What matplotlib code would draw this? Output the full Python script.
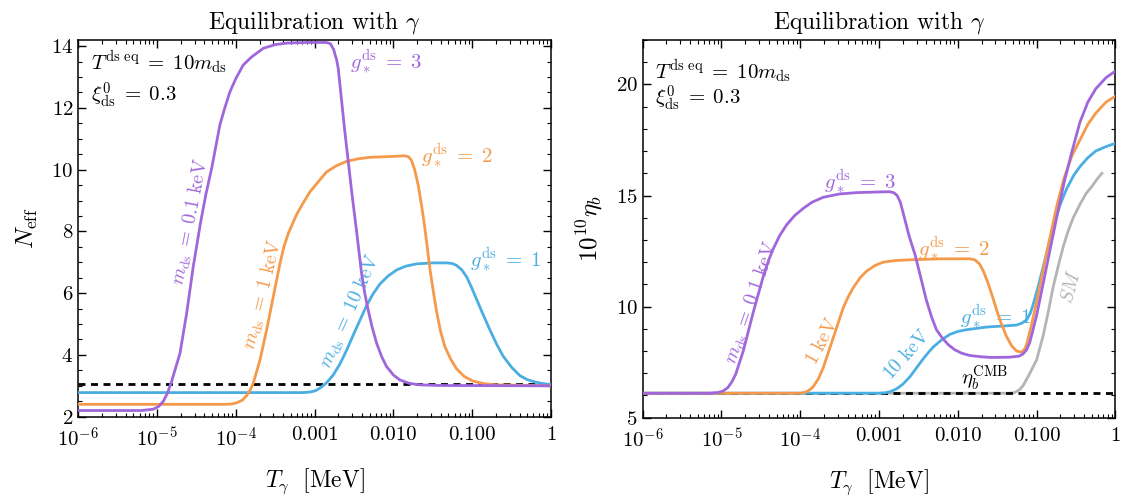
import numpy as np
import matplotlib
matplotlib.use("Agg")
import matplotlib.pyplot as plt
from matplotlib.ticker import FixedLocator, LogLocator, MultipleLocator, NullFormatter

plt.rcParams['font.family'] = 'serif'
plt.rcParams['font.serif'] = ['cmr10']
plt.rcParams['mathtext.fontset'] = 'cm'
plt.rcParams['axes.formatter.use_mathtext'] = True
plt.rcParams['axes.unicode_minus'] = False

# ---------------- data (x given as log10 of T_gamma / MeV) ----------------
# left panel: N_eff
lt_neff_p = [-6.0, -5.2, -5.05, -4.98, -4.92, -4.87, -4.82, -4.709, -4.624, -4.541, -4.45,
             -4.38, -4.307, -4.25, -4.202, -4.14, -4.075, -4.0, -3.906, -3.8, -3.652,
             -3.5, -3.355, -3.1, -2.85, -2.80, -2.76, -2.72, -2.70, -2.66, -2.615,
             -2.57, -2.53, -2.467, -2.404, -2.36, -2.32, -2.27, -2.213, -2.15, -2.086,
             -2.0, -1.918, -1.8, -1.664, -1.4, 0.0]
neff_p = [2.20, 2.20, 2.24, 2.33, 2.5, 2.75, 3.1, 4.05, 5.35, 6.85, 8.25,
          9.2, 10.04, 10.8, 11.45, 12.0, 12.52, 12.95, 13.39, 13.65, 13.93,
          14.05, 14.10, 14.12, 14.12, 14.08, 13.9, 13.55, 13.28, 12.3, 11.2,
          10.2, 9.3, 8.0, 6.64, 5.95, 5.45, 4.9, 4.38, 3.95, 3.62,
          3.35, 3.19, 3.08, 3.03, 3.01, 3.0]

lt_neff_o = [-6.0, -4.15, -4.05, -3.99, -3.92, -3.863, -3.82, -3.779, -3.694, -3.609, -3.525,
             -3.44, -3.39, -3.335, -3.28, -3.228, -3.15, -3.06, -2.95, -2.848, -2.72,
             -2.594, -2.45, -2.3, -2.0, -1.86, -1.81, -1.77, -1.73, -1.685, -1.64,
             -1.6, -1.537, -1.49, -1.452, -1.4, -1.347, -1.27, -1.198, -1.1, -0.987,
             -0.85, -0.69, 0.0]
neff_o = [2.40, 2.40, 2.41, 2.45, 2.53, 2.68, 2.85, 3.08, 3.83, 4.81, 5.88,
          6.96, 7.5, 7.93, 8.25, 8.55, 8.9, 9.28, 9.62, 9.93, 10.13,
          10.27, 10.35, 10.40, 10.43, 10.45, 10.42, 10.3, 10.0, 9.5, 8.8,
          8.1, 6.8, 6.0, 5.4, 4.75, 4.27, 3.85, 3.55, 3.3, 3.15,
          3.07, 3.03, 3.0]

lt_neff_b = [-6.0, -3.15, -3.05, -2.98, -2.93, -2.87, -2.82, -2.764, -2.68, -2.594, -2.5,
             -2.42, -2.34, -2.26, -2.17, -2.07, -1.96, -1.85, -1.705, -1.5, -1.325,
             -1.25, -1.198, -1.13, -1.071, -1.01, -0.944, -0.86, -0.775, -0.69, -0.607,
             -0.5, -0.395, -0.3, -0.2, -0.1, 0.0]
neff_b = [2.78, 2.78, 2.80, 2.85, 2.93, 3.05, 3.18, 3.35, 3.7, 4.15, 4.7,
          5.15, 5.6, 5.97, 6.3, 6.55, 6.75, 6.87, 6.95, 6.98, 6.98,
          6.96, 6.90, 6.75, 6.53, 6.2, 5.8, 5.3, 4.81, 4.35, 3.96,
          3.6, 3.33, 3.2, 3.12, 3.07, 3.04]

neff_sm = 3.045

# right panel: 10^10 eta_b
lt_eta_p = [-6.0, -5.15, -5.05, -4.98, -4.92, -4.87, -4.82, -4.723, -4.596, -4.47, -4.40,
            -4.343, -4.26, -4.173, -4.07, -3.962, -3.85, -3.708, -3.5, -3.284, -3.0,
            -2.862, -2.81, -2.77, -2.73, -2.70, -2.62, -2.54, -2.47, -2.40, -2.33,
            -2.27, -2.2, -2.12, -2.04, -1.95, -1.85, -1.7, -1.58, -1.35, -1.22,
            -1.17, -1.13, -1.09, -1.06, -1.0, -0.873, -0.746, -0.65, -0.55, -0.45,
            -0.35, -0.25, -0.12, 0.0]
eta_p = [6.1, 6.1, 6.13, 6.2, 6.35, 6.6, 6.95, 8.0, 9.75, 11.35, 12.1,
         12.6, 13.2, 13.68, 14.1, 14.42, 14.7, 14.92, 15.07, 15.13, 15.16,
         15.17, 15.12, 15.0, 14.7, 14.3, 13.2, 12.3, 11.3, 10.3, 9.5,
         8.95, 8.6, 8.28, 8.06, 7.9, 7.8, 7.74, 7.71, 7.72, 7.77,
         7.88, 8.04, 8.35, 8.75, 9.6, 11.8, 14.0, 15.6, 17.0, 18.3,
         19.2, 19.8, 20.3, 20.6]

lt_eta_o = [-6.0, -4.0, -3.93, -3.87, -3.835, -3.77, -3.708, -3.581, -3.454, -3.39, -3.327,
            -3.24, -3.157, -3.05, -2.947, -2.8, -2.65, -2.227, -1.846, -1.78, -1.72,
            -1.67, -1.614, -1.56, -1.508, -1.45, -1.381, -1.32, -1.254, -1.19, -1.15,
            -1.127, -1.07, -1.0, -0.873, -0.746, -0.65, -0.55, -0.45, -0.35, -0.25,
            -0.12, 0.0]
eta_o = [6.1, 6.1, 6.15, 6.28, 6.4, 6.75, 7.25, 8.6, 9.95, 10.45, 10.85,
         11.3, 11.6, 11.85, 12.0, 12.07, 12.1, 12.15, 12.15, 12.1, 11.9,
         11.55, 11.03, 10.45, 9.85, 9.25, 8.65, 8.25, 8.0, 7.95, 8.1,
         8.3, 9.1, 10.2, 12.4, 14.5, 15.8, 16.8, 17.5, 18.2, 18.7,
         19.2, 19.47]

lt_eta_b = [-6.0, -3.0, -2.92, -2.85, -2.777, -2.7, -2.608, -2.523, -2.439, -2.37, -2.312,
            -2.2, -2.1, -2.0, -1.888, -1.635, -1.4, -1.254, -1.19, -1.127, -1.08,
            -1.043, -0.98, -0.916, -0.789, -0.7, -0.619, -0.53, -0.45, -0.35, -0.25,
            -0.12, 0.0]
eta_b = [6.1, 6.1, 6.12, 6.18, 6.3, 6.5, 6.84, 7.25, 7.65, 7.95, 8.18,
         8.52, 8.75, 8.88, 8.96, 9.08, 9.13, 9.17, 9.25, 9.4, 9.7,
         10.1, 10.9, 11.8, 13.6, 14.6, 15.3, 15.9, 16.3, 16.7, 17.0,
         17.2, 17.35]

lt_eta_sm = [-6.0, -1.35, -1.28, -1.22, -1.17, -1.1, -1.0, -0.916, -0.85, -0.789, -0.72,
             -0.662, -0.6, -0.535, -0.45, -0.37, -0.3, -0.23, -0.171]
eta_sm = [6.1, 6.1, 6.13, 6.25, 6.45, 6.9, 7.6, 8.7, 9.8, 10.9, 11.9,
          12.7, 13.4, 14.0, 14.6, 15.1, 15.4, 15.75, 16.0]

eta_cmb = 6.1

xticks = [1e-6, 1e-5, 1e-4, 1e-3, 1e-2, 1e-1, 1]
xticklabels = [r'$10^{-6}$', r'$10^{-5}$', r'$10^{-4}$', '0.001', '0.010', '0.100', '1']

c_p = '#a066dc'
c_o = '#f59a4a'
c_b = '#4aaee2'
c_g = '#b4b4b4'
lw = 2.0

fig = plt.figure(figsize=(11.21, 4.98), dpi=100)
ax1 = fig.add_axes([0.0698, 0.1633, 0.4217, 0.7564])
ax2 = fig.add_axes([0.5733, 0.1613, 0.4217, 0.7584])


def T(lt):
    return 10.0 ** np.array(lt)


def style(ax):
    ax.set_xscale('log')
    ax.set_xlim(1e-6, 1)
    ax.xaxis.set_major_locator(FixedLocator(xticks))
    ax.set_xticklabels(xticklabels)
    ax.xaxis.set_minor_locator(LogLocator(base=10, subs=np.arange(2, 10), numticks=20))
    ax.xaxis.set_minor_formatter(NullFormatter())
    ax.tick_params(which='both', direction='in', top=True, right=True, labelsize=15)
    ax.tick_params(which='major', length=6, width=1)
    ax.tick_params(which='minor', length=3, width=0.8)
    ax.tick_params(axis='x', which='major', pad=7)
    ax.set_xlabel(r'$T_\gamma\ \ [\mathrm{MeV}]$', fontsize=17, labelpad=12)
    ax.set_title(r'Equilibration with $\gamma$', fontsize=17, pad=8)
    for s in ax.spines.values():
        s.set_linewidth(1.1)


# ---------------- left panel ----------------
ax1.axhline(neff_sm, color='k', ls='--', lw=2, dashes=(2.5, 2), zorder=2)
ax1.plot(T(lt_neff_b), neff_b, color=c_b, lw=lw, zorder=3)
ax1.plot(T(lt_neff_o), neff_o, color=c_o, lw=lw, zorder=4)
ax1.plot(T(lt_neff_p), neff_p, color=c_p, lw=lw, zorder=5)
style(ax1)
ax1.set_ylim(2, 14.2)
ax1.yaxis.set_major_locator(MultipleLocator(2))
ax1.yaxis.set_minor_locator(MultipleLocator(0.5))
ax1.set_ylabel(r'$N_{\rm eff}$', fontsize=18, labelpad=8)

fs = 15
fr = 14
ax1.text(0.027, 0.939, r'$T^{\rm ds\ eq} \;=\; 10 m_{\rm ds}$', transform=ax1.transAxes, fontsize=fs, va='center')
ax1.text(0.027, 0.854, r'$\xi^0_{\rm ds} \;=\; 0.3$', transform=ax1.transAxes, fontsize=fs, va='center')
ax1.text(0.575, 0.942, r'$g_*^{\rm ds} \;=\; 3$', transform=ax1.transAxes, fontsize=fs, va='center', color=c_p)
ax1.text(0.726, 0.694, r'$g_*^{\rm ds} \;=\; 2$', transform=ax1.transAxes, fontsize=fs, va='center', color=c_o)
ax1.text(0.829, 0.416, r'$g_*^{\rm ds} \;=\; 1$', transform=ax1.transAxes, fontsize=fs, va='center', color=c_b)
ax1.text(0.237, 0.516, r'$m_{\rm ds} \;=\; 0.1\ \mathrm{keV}$', transform=ax1.transAxes, fontsize=fr,
         ha='center', va='center', rotation=79, color=c_p)
ax1.text(0.392, 0.323, r'$m_{\rm ds} \;=\; 1\ \mathrm{keV}$', transform=ax1.transAxes, fontsize=fr,
         ha='center', va='center', rotation=76, color=c_o)
ax1.text(0.576, 0.278, r'$m_{\rm ds} \;=\; 10\ \mathrm{keV}$', transform=ax1.transAxes, fontsize=fr,
         ha='center', va='center', rotation=66, color=c_b)

# ---------------- right panel ----------------
ax2.plot(T(lt_eta_sm), eta_sm, color=c_g, lw=lw, zorder=1)
ax2.axhline(eta_cmb, color='k', ls='--', lw=2, dashes=(2.5, 2), zorder=2)
ax2.plot(T(lt_eta_b), eta_b, color=c_b, lw=lw, zorder=3)
ax2.plot(T(lt_eta_o), eta_o, color=c_o, lw=lw, zorder=4)
ax2.plot(T(lt_eta_p), eta_p, color=c_p, lw=lw, zorder=5)
style(ax2)
ax2.set_ylim(5, 22)
ax2.yaxis.set_major_locator(MultipleLocator(5))
ax2.yaxis.set_minor_locator(MultipleLocator(1))
ax2.set_ylabel(r'$10^{10}\eta_b$', fontsize=18, labelpad=8)

ax2.text(0.026, 0.916, r'$T^{\rm ds\ eq} \;=\; 10 m_{\rm ds}$', transform=ax2.transAxes, fontsize=fs, va='center')
ax2.text(0.026, 0.846, r'$\xi^0_{\rm ds} \;=\; 0.3$', transform=ax2.transAxes, fontsize=fs, va='center')
ax2.text(0.46, 0.625, r'$g_*^{\rm ds} \;=\; 3$', transform=ax2.transAxes, fontsize=fs, ha='center', va='center', color=c_p)
ax2.text(0.583, 0.449, r'$g_*^{\rm ds} \;=\; 2$', transform=ax2.transAxes, fontsize=fs, va='center', color=c_o)
ax2.text(0.671, 0.267, r'$g_*^{\rm ds} \;=\; 1$', transform=ax2.transAxes, fontsize=fs, va='center', color=c_b)
ax2.text(0.230, 0.303, r'$m_{\rm ds} \;=\; 0.1\ \mathrm{keV}$', transform=ax2.transAxes, fontsize=fr,
         ha='center', va='center', rotation=71, color=c_p)
ax2.text(0.380, 0.201, r'$1\ \mathrm{keV}$', transform=ax2.transAxes, fontsize=fr,
         ha='center', va='center', rotation=62, color=c_o)
ax2.text(0.558, 0.165, r'$10\ \mathrm{keV}$', transform=ax2.transAxes, fontsize=fr,
         ha='center', va='center', rotation=48, color=c_b)
ax2.text(0.724, 0.105, r'$\eta_b^{\rm CMB}$', transform=ax2.transAxes, fontsize=fs,
         ha='center', va='center', color='k')
ax2.text(0.908, 0.346, r'$SM$', transform=ax2.transAxes, fontsize=fr,
         ha='center', va='center', rotation=75, color=c_g)

fig.savefig('out.png', dpi=100)
